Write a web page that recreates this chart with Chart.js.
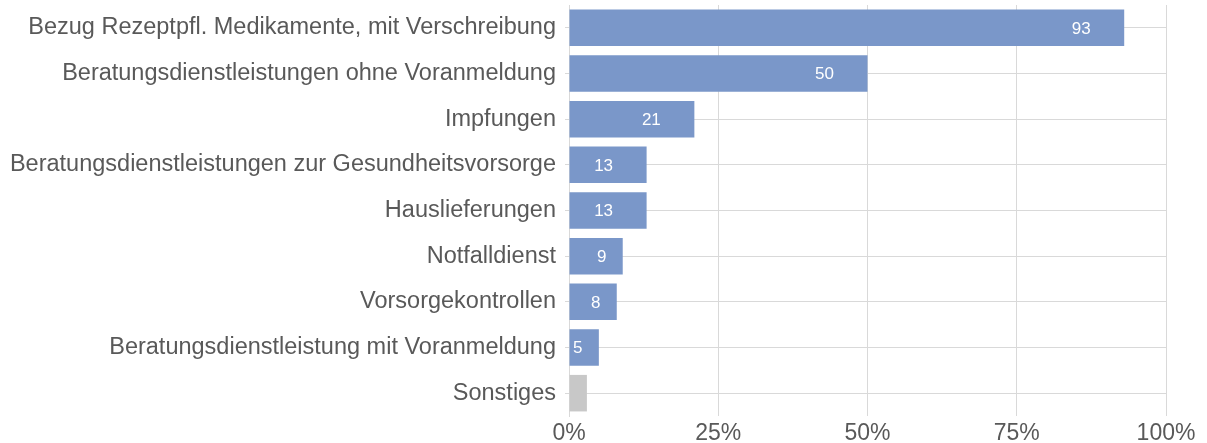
<!DOCTYPE html>
<html><head><meta charset="utf-8">
<script src="https://cdn.jsdelivr.net/npm/chart.js@4"></script>
<style>html,body{margin:0;padding:0;background:#fff;}canvas{display:block;}</style>
</head><body>
<canvas id="c" width="1207" height="443"></canvas>
<script>
const categories = ["Bezug Rezeptpfl. Medikamente, mit Verschreibung","Beratungsdienstleistungen ohne Voranmeldung","Impfungen","Beratungsdienstleistungen zur Gesundheitsvorsorge","Hauslieferungen","Notfalldienst","Vorsorgekontrollen","Beratungsdienstleistung mit Voranmeldung","Sonstiges"];
const values = [93, 50, 21, 13, 13, 9, 8, 5, 3];
const showLabel = [true, true, true, true, true, true, true, true, false];
const barColors = ["#7A97C9","#7A97C9","#7A97C9","#7A97C9","#7A97C9","#7A97C9","#7A97C9","#7A97C9","#C8C8C8"];
const xTicks = [0, 25, 50, 75, 100];

const FONT = "'Liberation Sans', Arial, Helvetica, sans-serif";
const GRID = "#D9D9D9";
const TXT = "#595959";

const labelPlugin = {
  id: 'vals',
  afterDatasetsDraw(chart) {
    const ctx = chart.ctx;
    const meta = chart.getDatasetMeta(0);
    ctx.save();
    ctx.fillStyle = "#fff";
    ctx.font = "17px " + FONT;
    ctx.textAlign = "center";
    ctx.textBaseline = "middle";
    meta.data.forEach((bar, i) => {
      if (!showLabel[i]) return;
      const v = values[i];
      const off = v < 10 ? 21 : 43;
      ctx.fillText(String(v), bar.x - off, bar.y + 1);
    });
    ctx.restore();
  }
};

new Chart(document.getElementById('c'), {
  type: 'bar',
  data: {
    labels: categories,
    datasets: [{ data: values, backgroundColor: barColors, barPercentage: 0.8, categoryPercentage: 1.0 }]
  },
  options: {
    indexAxis: 'y',
    responsive: false,
    animation: false,
    devicePixelRatio: 1,
    layout: { padding: { top: 5, right: 41, left: 0, bottom: 0 } },
    plugins: { legend: { display: false }, tooltip: { enabled: false } },
    scales: {
      x: {
        min: 0, max: 100,
        afterBuildTicks(s) { s.ticks = xTicks.map(v => ({ value: v })); },
        afterFit(s) { s.height = 27; s.paddingLeft = 0; },
        grid: { color: GRID, lineWidth: 1, drawTicks: false },
        border: { display: false },
        ticks: { color: TXT, font: { size: 23, family: FONT }, padding: 4, callback: v => v + '%' }
      },
      y: {
        afterFit(s) { s.width = 569; s.paddingTop = 0; s.paddingBottom = 0; },
        grid: { color: GRID, lineWidth: 1, offset: false, tickLength: 4 },
        border: { display: true, color: GRID },
        ticks: { color: TXT, font: { size: 23.5, family: FONT }, padding: 9 }
      }
    }
  },
  plugins: [labelPlugin]
});
</script>
</body></html>
